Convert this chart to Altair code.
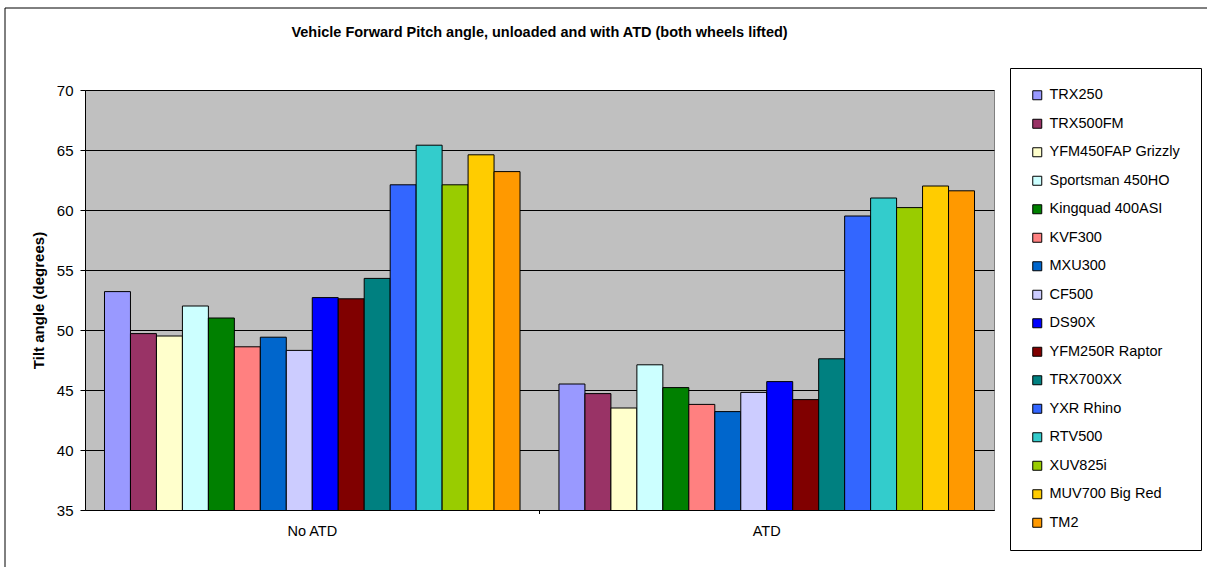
import altair as alt
import pandas as pd

# Vehicles (series) and their bar colours
vehicles = [
    "TRX250", "TRX500FM", "YFM450FAP Grizzly", "Sportsman 450HO",
    "Kingquad 400ASI", "KVF300", "MXU300", "CF500", "DS90X",
    "YFM250R Raptor", "TRX700XX", "YXR Rhino", "RTV500", "XUV825i",
    "MUV700 Big Red", "TM2",
]
colors = [
    "#9999FF", "#993366", "#FFFFCC", "#CCFFFF", "#008000", "#FF8080",
    "#0066CC", "#CCCCFF", "#0000FF", "#800000", "#008080", "#3366FF",
    "#33CCCC", "#99CC00", "#FFCC00", "#FF9900",
]

# Test conditions (categories)
conditions = ["No ATD", "ATD"]

# Forward pitch tilt angle (degrees)
no_atd = [53.2, 49.7, 49.5, 52.0, 51.0, 48.6, 49.4, 48.3,
          52.7, 52.6, 54.3, 62.1, 65.4, 62.1, 64.6, 63.2]
atd = [45.5, 44.7, 43.5, 47.1, 45.2, 43.8, 43.2, 44.8,
       45.7, 44.2, 47.6, 59.5, 61.0, 60.2, 62.0, 61.6]

title_text = "Vehicle Forward Pitch angle, unloaded and with ATD (both wheels lifted)"

rows = []
for cond, vals in zip(conditions, [no_atd, atd]):
    for v, val in zip(vehicles, vals):
        rows.append({"Condition": cond, "Vehicle": v, "Angle": val})
df = pd.DataFrame(rows)

FONT = "Liberation Sans"
W, H = 909, 420

bars = alt.Chart(df).mark_bar(stroke="black", strokeWidth=1, clip=True).encode(
    x=alt.X(
        "Condition:N",
        sort=conditions,
        scale=alt.Scale(paddingInner=0.0857, paddingOuter=0.0429),
        axis=alt.Axis(
            title=None, labelAngle=0, ticks=False,
            labelPadding=14, labelFontSize=14.5, labelFont=FONT,
            labelColor="black", domainColor="black", grid=False,
        ),
    ),
    xOffset=alt.XOffset("Vehicle:N", sort=vehicles,
                        scale=alt.Scale(paddingInner=0, paddingOuter=0)),
    y=alt.Y(
        "Angle:Q",
        scale=alt.Scale(domain=[35, 70], nice=False, zero=False),
        axis=alt.Axis(
            title="Tilt angle (degrees)", values=[35, 40, 45, 50, 55, 60, 65, 70],
            tickSize=5, labelPadding=7, labelFontSize=15, labelFont=FONT,
            labelColor="black", titleFont=FONT, titleFontSize=15,
            titleFontWeight="bold", titleColor="black", titlePadding=10,
            domainColor="black", tickColor="black", gridColor="black",
            gridWidth=1, grid=True,
        ),
    ),
    color=alt.Color(
        "Vehicle:N",
        sort=vehicles,
        scale=alt.Scale(domain=vehicles, range=colors),
        legend=alt.Legend(
            title=None, orient="none", legendX=925, legendY=-22,
            symbolType="square", symbolSize=81, symbolStrokeColor="black",
            symbolStrokeWidth=1, symbolOpacity=1, labelFont=FONT,
            labelFontSize=14.5, labelColor="black", labelOffset=5,
            rowPadding=13.5, padding=20, strokeColor="black",
            fillColor="white", labelLimit=300,
        ),
    ),
)

one = pd.DataFrame({"k": [0]})

# Outer chart frame
frame = alt.Chart(one).mark_rect(
    filled=False, stroke="black", strokeWidth=1, clip=False
).encode(
    x=alt.value(-80), x2=alt.value(1132),
    y=alt.value(-82), y2=alt.value(490),
)

# Tick between the two categories
divider = alt.Chart(one).mark_rule(color="black", strokeWidth=1).encode(
    x=alt.value(W / 2), y=alt.value(H), y2=alt.value(H + 4),
)

# Chart title
title = alt.Chart(one).mark_text(
    text=title_text, font=FONT, fontSize=14.5, fontWeight="bold",
    color="black", align="center", baseline="middle",
).encode(x=alt.value(W / 2), y=alt.value(-57))

chart = alt.layer(frame, bars, divider, title).properties(
    width=W,
    height=H,
    autosize=alt.AutoSizeParams(type="none"),
    padding={"left": 85, "top": 90, "right": 213, "bottom": 57},
    background="white",
).configure_view(
    fill="#C0C0C0", stroke="#808080", strokeWidth=1
)

chart.save("out.html", embed_options={"renderer": "svg", "actions": False})
